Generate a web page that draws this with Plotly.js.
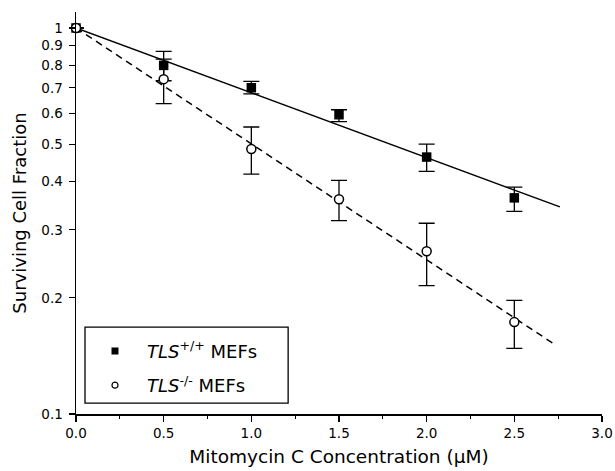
<!DOCTYPE html>
<html>
<head>
<meta charset="utf-8">
<script src="https://cdn.plot.ly/plotly-3.0.1.min.js"></script>
<style>
  html, body { margin: 0; padding: 0; background: #fff; }
  #chart { width: 615px; height: 471px; }
</style>
</head>
<body>
<div id="chart"></div>
<script>
// ---- data ----
const concentration = [0, 0.5, 1.0, 1.5, 2.0, 2.5];

const wtName = "<i>TLS</i><sup>+/+</sup> MEFs";
const wtSurvival = [1.0, 0.80, 0.70, 0.596, 0.463, 0.363];
const wtErrUp    = [0, 0.07, 0.027, 0.018, 0.037, 0.024];
const wtErrDown  = [0, 0.07, 0.025, 0.024, 0.038, 0.028];

const koName = "<i>TLS</i><sup>-/-</sup> MEFs";
const koSurvival = [1.0, 0.737, 0.486, 0.360, 0.264, 0.173];
const koErrUp    = [0, 0.093, 0.068, 0.043, 0.048, 0.024];
const koErrDown  = [0, 0.100, 0.068, 0.043, 0.049, 0.025];

// fitted lines (end points)
const wtFitX = [0, 2.76];
const wtFitY = [1.0, 0.344];
const koFitX = [0, 2.72];
const koFitY = [1.0, 0.1525];

const xTickVals = [0, 0.5, 1.0, 1.5, 2.0, 2.5, 3.0];
const xTickText = ["0.0", "0.5", "1.0", "1.5", "2.0", "2.5", "3.0"];
const yTickVals = [0.1, 0.2, 0.3, 0.4, 0.5, 0.6, 0.7, 0.8, 0.9, 1];
const yTickText = ["0.1", "0.2", "0.3", "0.4", "0.5", "0.6", "0.7", "0.8", "0.9", "1"];

const xTitle = "Mitomycin C Concentration (\u03bcM)";
const yTitle = "Surviving Cell Fraction";

// ---- drawing ----
const FONT = "DejaVu Sans, Arial, sans-serif";

const traces = [
  {
    x: wtFitX, y: wtFitY, mode: "lines", showlegend: false, hoverinfo: "skip",
    line: { color: "#000", width: 1.5 }
  },
  {
    x: koFitX, y: koFitY, mode: "lines", showlegend: false, hoverinfo: "skip",
    line: { color: "#000", width: 1.5, dash: "7px,5px" }
  },
  {
    x: concentration, y: wtSurvival, mode: "markers", showlegend: false, cliponaxis: false,
    marker: { symbol: "square", size: 9.5, color: "#000" },
    error_y: { type: "data", symmetric: false, array: wtErrUp, arrayminus: wtErrDown,
               color: "#000", thickness: 1.3, width: 8 }
  },
  {
    x: concentration, y: koSurvival, mode: "markers", showlegend: false, cliponaxis: false,
    marker: { symbol: "circle", size: 9, color: "#fff", line: { color: "#000", width: 1.5 } },
    error_y: { type: "data", symmetric: false, array: koErrUp, arrayminus: koErrDown,
               color: "#000", thickness: 1.3, width: 8 }
  },
  // legend entries
  {
    x: [null], y: [null], mode: "markers", name: wtName, legend: "legend",
    marker: { symbol: "square", size: 7, color: "#000" }
  },
  {
    x: [null], y: [null], mode: "markers", name: koName, legend: "legend2",
    marker: { symbol: "circle", size: 6, color: "#fff", line: { color: "#000", width: 1.2 } }
  }
];

const legendCommon = {
  xanchor: "left", yanchor: "middle",
  bgcolor: "rgba(0,0,0,0)", borderwidth: 0,
  itemwidth: 54,
  font: { family: FONT, size: 18, color: "#000" },
  itemclick: false, itemdoubleclick: false
};

const layout = {
  width: 615, height: 471,
  margin: { l: 76, r: 13, t: 12, b: 57, pad: 0 },
  paper_bgcolor: "#fff", plot_bgcolor: "#fff",
  font: { family: FONT, color: "#000" },
  showlegend: true,
  legend: Object.assign({}, legendCommon, { x: 0.0133, y: 0.156 }),
  legend2: Object.assign({}, legendCommon, { x: 0.0133, y: 0.071 }),
  xaxis: {
    range: [0, 3],
    tickmode: "array", tickvals: xTickVals, ticktext: xTickText,
    ticks: "outside", ticklen: 6, tickwidth: 1.3, tickcolor: "#000",
    minor: { dtick: 0.25, ticks: "outside", ticklen: 3, tickwidth: 1.2, tickcolor: "#000" },
    showline: true, linecolor: "#000", linewidth: 1.5,
    showgrid: false, zeroline: false,
    tickfont: { family: FONT, size: 13.5, color: "#000" },
    title: { text: xTitle, font: { family: FONT, size: 18.5, color: "#000" }, standoff: 10 }
  },
  yaxis: {
    type: "log",
    range: [-1, Math.log10(1.1)],
    tickmode: "array", tickvals: yTickVals, ticktext: yTickText,
    ticks: "outside", ticklen: 6, tickwidth: 1.3, tickcolor: "#000",
    showline: true, linecolor: "#000", linewidth: 1.5,
    showgrid: false, zeroline: false,
    tickfont: { family: FONT, size: 13.5, color: "#000" },
    ticklabelstandoff: 3,
    title: { text: yTitle, font: { family: FONT, size: 18, color: "#000" }, standoff: 10 }
  },
  shapes: [
    {
      type: "rect", xref: "paper", yref: "paper",
      x0: 0.0171, x1: 0.4033, y0: 0.0273, y1: 0.2163,
      line: { color: "#000", width: 1.3 }, fillcolor: "rgba(0,0,0,0)", layer: "below"
    }
  ]
};

Plotly.newPlot("chart", traces, layout, { staticPlot: true, displayModeBar: false });
</script>
</body>
</html>
